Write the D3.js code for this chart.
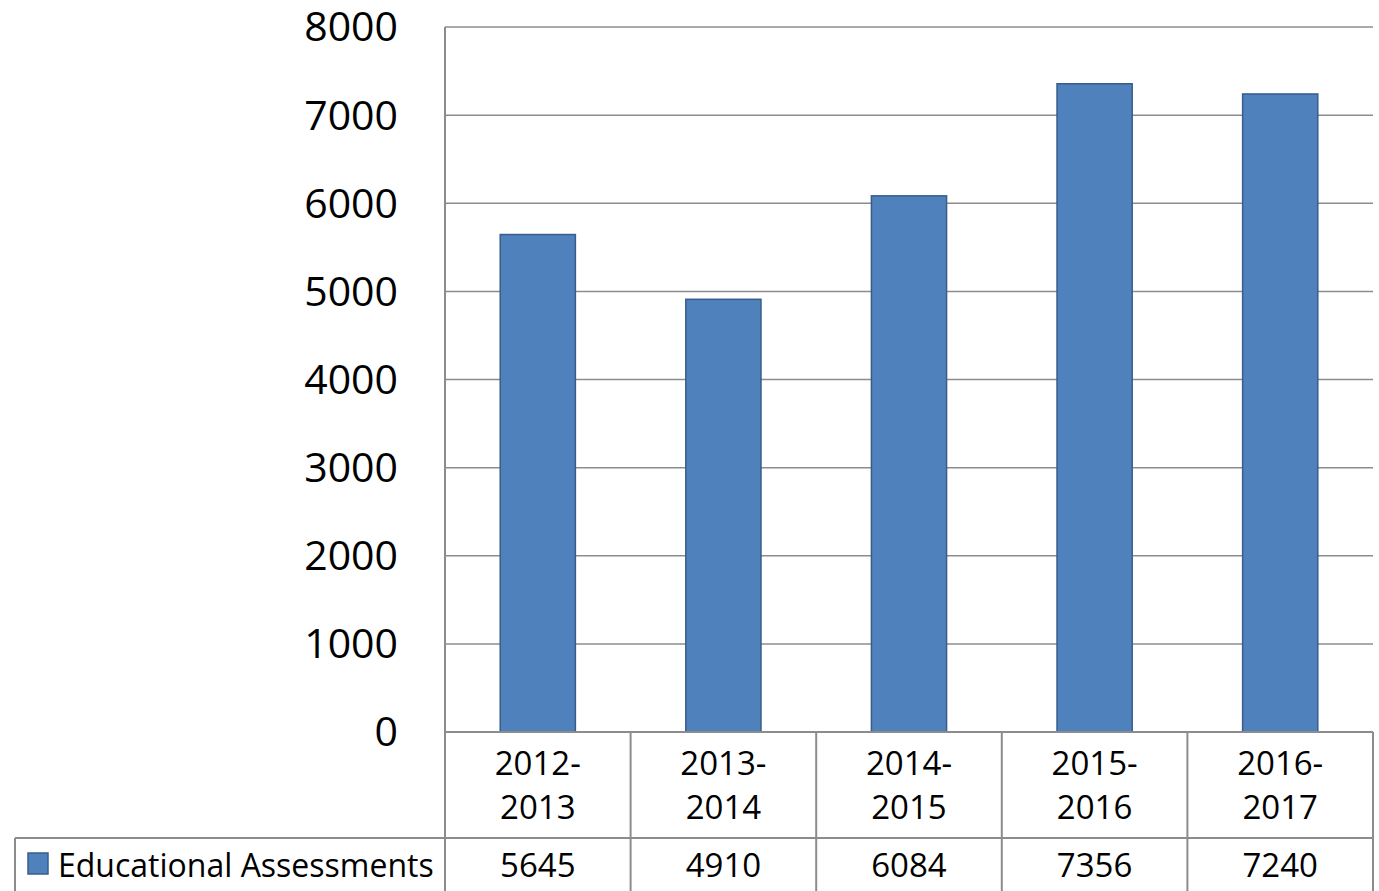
<!DOCTYPE html>
<html><head><meta charset="utf-8">
<script src="https://cdn.jsdelivr.net/npm/d3@7"></script>
<style>body{margin:0;background:#fff}svg{display:block}text{font-family:"Open Sans",sans-serif;fill:#000}</style>
</head><body>
<script>
const categories = [["2012-","2013"],["2013-","2014"],["2014-","2015"],["2015-","2016"],["2016-","2017"]];
const seriesName = "Educational Assessments";
const values = [5645, 4910, 6084, 7356, 7240];
const yTicks = [0,1000,2000,3000,4000,5000,6000,7000,8000];

const W = 1379, H = 891;
const L = 445, R = 1373, T = 27, B = 732;
const row1 = 838, legendLeft = 15;
const svg = d3.select("body").append("svg").attr("width", W).attr("height", H);

const x = d3.scaleBand().domain(d3.range(categories.length)).range([L, R]).paddingInner(0).paddingOuter(0);
const y = d3.scaleLinear().domain([0, 8000]).range([B, T]);
const grid = "#8c8c8c";

// gridlines
svg.append("g").selectAll("line").data(yTicks.filter(d => d > 0)).join("line")
  .attr("x1", L).attr("x2", R).attr("y1", d => y(d)).attr("y2", d => y(d))
  .attr("stroke", grid).attr("stroke-width", 1.5);

// y axis labels
const yAxis = d3.axisLeft(y).tickValues(yTicks).tickFormat(d3.format("d")).tickSize(0).tickPadding(47);
const ga = svg.append("g").attr("transform", `translate(${L},0)`).call(yAxis);
ga.select(".domain").remove();
ga.selectAll("text").style("font-family", '"Open Sans",sans-serif').attr("font-size", 41).attr("fill", "#000").attr("dy", "0.34em");

// bars
const bw = x.bandwidth() * 0.405;
svg.append("g").selectAll("rect").data(values).join("rect")
  .attr("x", (d, i) => x(i) + (x.bandwidth() - bw) / 2)
  .attr("width", bw)
  .attr("y", d => y(d))
  .attr("height", d => y(0) - y(d))
  .attr("fill", "#4F81BD").attr("stroke", "#385D8A").attr("stroke-width", 1.5);

// table lines
const tl = svg.append("g").attr("stroke", grid).attr("stroke-width", 2);
tl.append("line").attr("x1", L).attr("x2", R).attr("y1", B).attr("y2", B);
tl.append("line").attr("x1", legendLeft).attr("x2", R).attr("y1", row1).attr("y2", row1);
tl.append("line").attr("x1", L).attr("x2", L).attr("y1", T).attr("y2", H);
tl.append("line").attr("x1", legendLeft).attr("x2", legendLeft).attr("y1", row1).attr("y2", H);
tl.selectAll(".v").data(d3.range(1, categories.length + 1)).join("line")
  .attr("x1", i => i < categories.length ? x(i) : R).attr("x2", i => i < categories.length ? x(i) : R)
  .attr("y1", B).attr("y2", H);

// category labels
const cat = svg.append("g").selectAll("text").data(categories).join("text")
  .attr("text-anchor", "middle").attr("font-size", 33)
  .attr("x", (d, i) => x(i) + x.bandwidth() / 2);
cat.append("tspan").attr("y", 775).text(d => d[0]).attr("x", (d, i) => x(i) + x.bandwidth() / 2);
cat.append("tspan").attr("y", 819).text(d => d[1]).attr("x", (d, i) => x(i) + x.bandwidth() / 2);

// values
svg.append("g").selectAll("text").data(values).join("text")
  .attr("text-anchor", "middle").attr("font-size", 33)
  .attr("x", (d, i) => x(i) + x.bandwidth() / 2).attr("y", 877).text(d => d);

// legend
svg.append("rect").attr("x", 28).attr("y", 853).attr("width", 20).attr("height", 21)
  .attr("fill", "#4F81BD").attr("stroke", "#385D8A").attr("stroke-width", 1.5);
svg.append("text").attr("x", 58).attr("y", 877).attr("font-size", 32).text(seriesName);
</script>
</body></html>
